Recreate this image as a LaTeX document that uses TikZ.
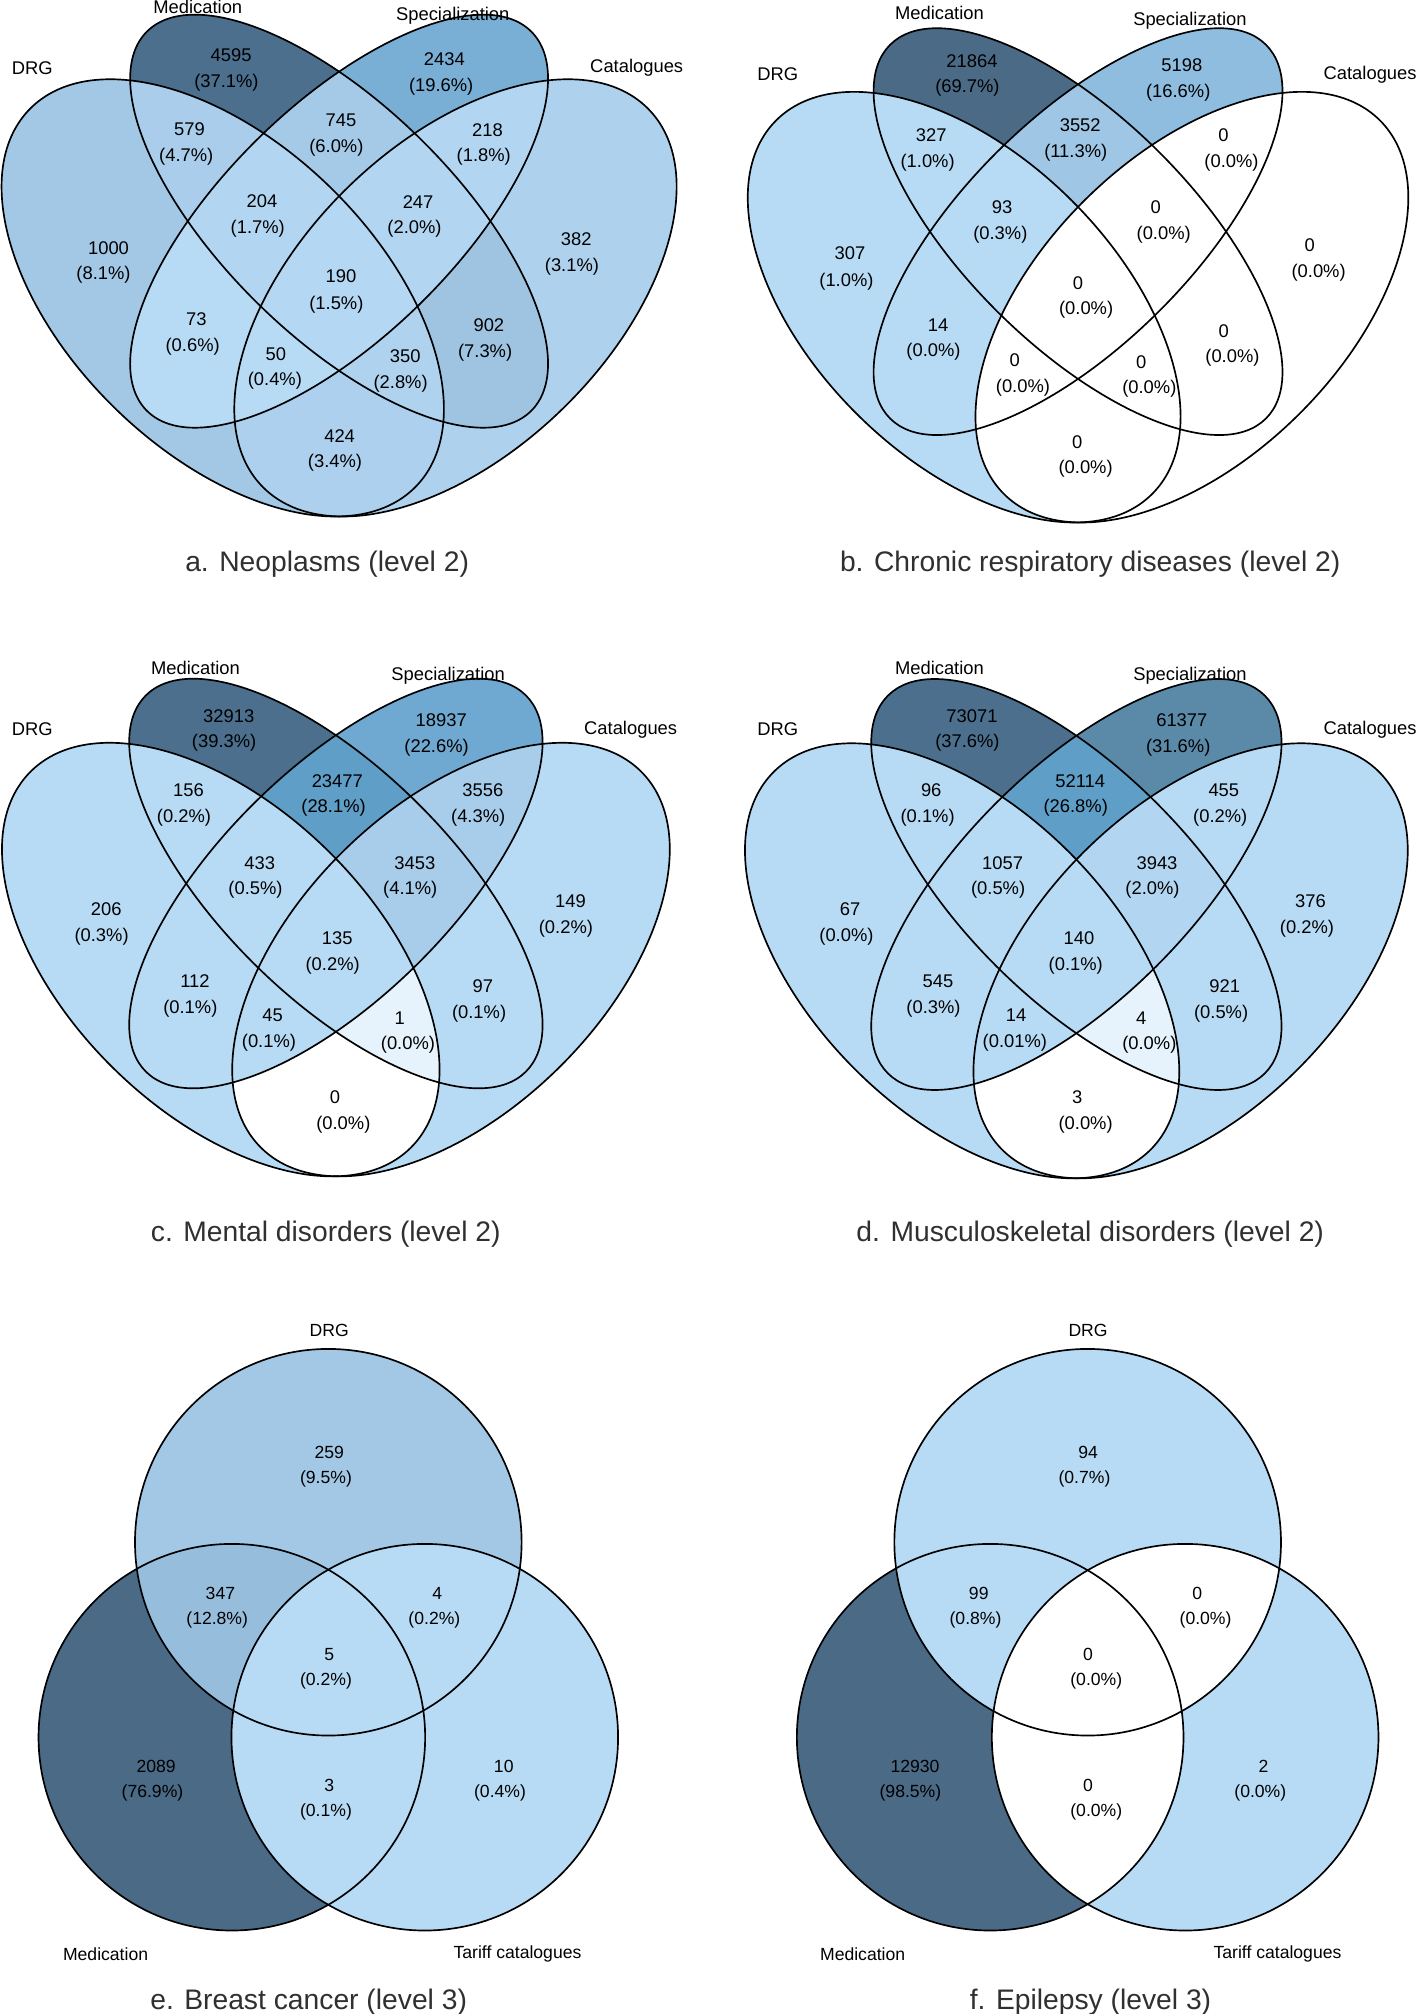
\documentclass[tikz,border=0pt]{standalone}
\usepackage{fontspec}
\setmainfont{Liberation Sans}
\definecolor{cDk}{HTML}{4B6F8C}
\definecolor{cDx}{HTML}{4A6A86}
\definecolor{c316}{HTML}{5B8AA9}
\definecolor{c28}{HTML}{5F9EC6}
\definecolor{c226}{HTML}{6FA8D0}
\definecolor{c196}{HTML}{79AED5}
\definecolor{c166}{HTML}{8EBDE0}
\definecolor{c128}{HTML}{97BDDC}
\definecolor{c113}{HTML}{9FC6E5}
\definecolor{c95}{HTML}{A3C8E5}
\definecolor{c81}{HTML}{A2C8E6}
\definecolor{c73}{HTML}{9EC4E2}
\definecolor{c60}{HTML}{A5CAE8}
\definecolor{c47}{HTML}{A9CDEA}
\definecolor{c43}{HTML}{A8CDEA}
\definecolor{c34}{HTML}{ACD0ED}
\definecolor{c31}{HTML}{AED2EE}
\definecolor{c282}{HTML}{AFD3EF}
\definecolor{c20}{HTML}{B2D6F2}
\definecolor{c15}{HTML}{B4D7F3}
\definecolor{cL}{HTML}{B8DBF5}
\definecolor{cVL}{HTML}{E6F3FC}
\definecolor{capcol}{HTML}{303030}
% four-set ellipses (model coordinates, centre x = 0)
\newcommand\ElA[2]{#1[#2,shift={(-.15,.47)},rotate=135] (0,0) ellipse [x radius=.35,y radius=.2];}
\newcommand\ElB[2]{#1[#2,shift={(0,.57)},rotate=135] (0,0) ellipse [x radius=.35,y radius=.15];}
\newcommand\ElC[2]{#1[#2,shift={(0,.57)},rotate=45] (0,0) ellipse [x radius=.35,y radius=.15];}
\newcommand\ElD[2]{#1[#2,shift={(.15,.47)},rotate=45] (0,0) ellipse [x radius=.35,y radius=.2];}
% three-set circles
\newcommand\hx{75.1}
\newcommand\ElP[2]{#1[#2] (0,0) circle [radius=150.5];}
\newcommand\ElM[2]{#1[#2] (-\hx,-151.8) circle [radius=150.5];}
\newcommand\ElT[2]{#1[#2] (\hx,-151.8) circle [radius=150.5];}
% region fills
\newcommand\Fone[2]{\csname El#1\endcsname{\path}{fill=#2}}
\newcommand\Ftwo[3]{\begin{scope}\csname El#1\endcsname{\clip}{}\csname El#2\endcsname{\path}{fill=#3}\end{scope}}
\newcommand\Fthree[4]{\begin{scope}\csname El#1\endcsname{\clip}{}\csname El#2\endcsname{\clip}{}\csname El#3\endcsname{\path}{fill=#4}\end{scope}}
\newcommand\Ffour[1]{\begin{scope}\ElA{\clip}{}\ElB{\clip}{}\ElC{\clip}{}\ElD{\path}{fill=#1}\end{scope}}
\newcommand\OutQ{\ElA{\draw}{venn}\ElB{\draw}{venn}\ElC{\draw}{venn}\ElD{\draw}{venn}}
\newcommand\OutT{\ElP{\draw}{venn}\ElM{\draw}{venn}\ElT{\draw}{venn}}
\tikzset{
  venn/.style={line width=1.3pt},
  lab/.style={font=\fontsize{14.3}{17}\selectfont,inner sep=0pt,anchor=center},
  labt/.style={font=\fontsize{13.7}{16}\selectfont,inner sep=0pt,anchor=center},
  captext/.style={font=\fontsize{22}{26}\selectfont,inner sep=0pt,anchor=center,text=capcol}
}
\begin{document}
\begin{tikzpicture}[x=1pt,y=1pt]
\useasboundingbox (0,0) rectangle (1104,-1568);
\fill[white] (0,0) rectangle (1104,-1568);

% ---------------- panel a ----------------
\begin{scope}[shift={(264,-512.5)},xscale=604,yscale=597]
\Fone{A}{c81}\Fone{B}{cDk}\Fone{C}{c196}\Fone{D}{c31}
\Ftwo{A}{B}{c47}\Ftwo{A}{C}{cL}\Ftwo{A}{D}{c34}\Ftwo{B}{C}{c60}\Ftwo{B}{D}{c73}\Ftwo{C}{D}{c20}
\Fthree{A}{B}{C}{c20}\Fthree{A}{B}{D}{c282}\Fthree{A}{C}{D}{cL}\Fthree{B}{C}{D}{c20}
\Ffour{c15}
\OutQ
\end{scope}
\node[lab] (aM) at (154,-5.4) {Medication};
\node[lab] (aS) at (352.5,-11.9) {Specialization};
\node[lab] (aD) at (25.2,-53) {DRG};
\node[lab] (aC) at (495.7,-53) {Catalogues};
\node[lab] (a1n) at (179.9,-43.2) {4595};  \node[lab] (a1p) at (176.3,-64.1) {(37.1\%)};
\node[lab] (a2n) at (346,-46.2) {2434};    \node[lab] (a2p) at (343.5,-67.6) {(19.6\%)};
\node[lab] (a3n) at (147.5,-100.7) {579};  \node[lab] (a3p) at (145,-122.2) {(4.7\%)};
\node[lab] (a4n) at (265.5,-93.3) {745};   \node[lab] (a4p) at (261.9,-114.7) {(6.0\%)};
\node[lab] (a5n) at (379.5,-101.3) {218};  \node[lab] (a5p) at (376.6,-122.2) {(1.8\%)};
\node[lab] (a6n) at (204,-157) {204};      \node[lab] (a6p) at (200.7,-178.2) {(1.7\%)};
\node[lab] (a7n) at (325.5,-157) {247};    \node[lab] (a7p) at (322.7,-178.2) {(2.0\%)};
\node[lab] (a8n) at (84.5,-193) {1000};    \node[lab] (a8p) at (80.6,-214) {(8.1\%)};
\node[lab] (a9n) at (448.6,-186.2) {382};  \node[lab] (a9p) at (445.3,-207.7) {(3.1\%)};
\node[lab] (a10n) at (265.5,-215.1) {190}; \node[lab] (a10p) at (261.9,-236.9) {(1.5\%)};
\node[lab] (a11n) at (152.9,-248.8) {73};  \node[lab] (a11p) at (150,-270.3) {(0.6\%)};
\node[lab] (a12n) at (380.6,-253.3) {902}; \node[lab] (a12p) at (377.7,-274.7) {(7.3\%)};
\node[lab] (a13n) at (214.7,-275.6) {50};  \node[lab] (a13p) at (214,-296.5) {(0.4\%)};
\node[lab] (a14n) at (315.5,-277.1) {350}; \node[lab] (a14p) at (311.9,-298.6) {(2.8\%)};
\node[lab] (a15n) at (264.4,-339.7) {424}; \node[lab] (a15p) at (260.8,-360.5) {(3.4\%)};
\node[captext] (acap) at (254.7,-439.5) {a. Neoplasms (level 2)};

% ---------------- panel b ----------------
\begin{scope}[shift={(839.3,-515.5)},xscale=591,yscale=588]
\Fone{A}{cL}\Fone{B}{cDx}\Fone{C}{c166}\Fone{D}{white}
\Ftwo{A}{B}{cL}\Ftwo{A}{C}{cL}\Ftwo{A}{D}{white}\Ftwo{B}{C}{c113}\Ftwo{B}{D}{white}\Ftwo{C}{D}{white}
\Fthree{A}{B}{C}{cL}\Fthree{A}{B}{D}{white}\Fthree{A}{C}{D}{white}\Fthree{B}{C}{D}{white}
\Ffour{white}
\OutQ
\end{scope}
\node[lab] (bM) at (731.4,-10.4) {Medication};
\node[lab] (bS) at (926.4,-16.4) {Specialization};
\node[lab] (bD) at (605.5,-58.1) {DRG};
\node[lab] (bC) at (1066.7,-58.1) {Catalogues};
\node[lab] (b1n) at (756.7,-47.7) {21864}; \node[lab] (b1p) at (753.2,-68.5) {(69.7\%)};
\node[lab] (b2n) at (920.1,-50.7) {5198};  \node[lab] (b2p) at (917.3,-72.1) {(16.6\%)};
\node[lab] (b3n) at (725,-104.9) {327};    \node[lab] (b3p) at (722.2,-126.6) {(1.0\%)};
\node[lab] (b4n) at (841,-97.7) {3552};    \node[lab] (b4p) at (837.5,-119.2) {(11.3\%)};
\node[lab] (b5n) at (952.5,-104.9) {0};    \node[lab] (b5p) at (958.8,-126.6) {(0.0\%)};
\node[lab] (b6n) at (780.2,-161.5) {93};   \node[lab] (b6p) at (778.8,-182.4) {(0.3\%)};
\node[lab] (b7n) at (899.7,-161.5) {0};    \node[lab] (b7p) at (906,-182.4) {(0.0\%)};
\node[lab] (b8n) at (661.8,-197.3) {307};  \node[lab] (b8p) at (659,-219) {(1.0\%)};
\node[lab] (b9n) at (1019.6,-190.7) {0};   \node[lab] (b9p) at (1026.6,-212.2) {(0.0\%)};
\node[lab] (b10n) at (839.3,-220.5) {0};   \node[lab] (b10p) at (845.6,-241.4) {(0.0\%)};
\node[lab] (b11n) at (730.3,-253.3) {14};  \node[lab] (b11p) at (726.8,-274.1) {(0.0\%)};
\node[lab] (b12n) at (952.8,-257.7) {0};   \node[lab] (b12p) at (959.5,-278.6) {(0.0\%)};
\node[lab] (b13n) at (790.1,-280.1) {0};   \node[lab] (b13p) at (796.4,-301.5) {(0.0\%)};
\node[lab] (b14n) at (888.5,-281.6) {0};   \node[lab] (b14p) at (894.8,-303) {(0.0\%)};
\node[lab] (b15n) at (838.6,-344.2) {0};   \node[lab] (b15p) at (845.2,-365) {(0.0\%)};
\node[captext] (bcap) at (848.8,-439.5) {b. Chronic respiratory diseases (level 2)};

% ---------------- panel c ----------------
\begin{scope}[shift={(261.5,-1025.3)},xscale=597.5,yscale=592]
\Fone{A}{cL}\Fone{B}{cDk}\Fone{C}{c226}\Fone{D}{cL}
\Ftwo{A}{B}{cL}\Ftwo{A}{C}{cL}\Ftwo{A}{D}{white}\Ftwo{B}{C}{c28}\Ftwo{B}{D}{cL}\Ftwo{C}{D}{c43}
\Fthree{A}{B}{C}{cL}\Fthree{A}{B}{D}{cVL}\Fthree{A}{C}{D}{cL}\Fthree{B}{C}{D}{c43}
\Ffour{cL}
\OutQ
\end{scope}
\node[lab] (cM) at (152.2,-520.4) {Medication};
\node[lab] (cS) at (348.9,-526.4) {Specialization};
\node[lab] (cD) at (25.2,-567.8) {DRG};
\node[lab] (cC) at (491,-567.8) {Catalogues};
\node[lab] (c1n) at (178.1,-557.4) {32913};  \node[lab] (c1p) at (174.5,-578.5) {(39.3\%)};
\node[lab] (c2n) at (343.5,-560.6) {18937};  \node[lab] (c2p) at (339.9,-582.1) {(22.6\%)};
\node[lab] (c3n) at (146.8,-615.5) {156};    \node[lab] (c3p) at (143.2,-636.6) {(0.2\%)};
\node[lab] (c4n) at (262.6,-608.3) {23477};  \node[lab] (c4p) at (259.7,-628.9) {(28.1\%)};
\node[lab] (c5n) at (375.9,-615.5) {3556};   \node[lab] (c5p) at (372.3,-636.6) {(4.3\%)};
\node[lab] (c6n) at (202.2,-672.1) {433};    \node[lab] (c6p) at (198.9,-692.9) {(0.5\%)};
\node[lab] (c7n) at (323,-672.1) {3453};     \node[lab] (c7p) at (319.4,-692.9) {(4.1\%)};
\node[lab] (c8n) at (82.7,-708.1) {206};     \node[lab] (c8p) at (79.1,-729) {(0.3\%)};
\node[lab] (c9n) at (444.2,-701.3) {149};    \node[lab] (c9p) at (440.6,-723) {(0.2\%)};
\node[lab] (c10n) at (262.6,-730.2) {135};   \node[lab] (c10p) at (259,-751.9) {(0.2\%)};
\node[lab] (c11n) at (151.8,-763.9) {112};   \node[lab] (c11p) at (148.2,-785.3) {(0.1\%)};
\node[lab] (c12n) at (375.9,-767.7) {97};    \node[lab] (c12p) at (373,-789.2) {(0.1\%)};
\node[lab] (c13n) at (212.2,-790.7) {45};    \node[lab] (c13p) at (209.4,-811.5) {(0.1\%)};
\node[lab] (c14n) at (311.2,-792.7) {1};     \node[lab] (c14p) at (317.6,-813.6) {(0.0\%)};
\node[lab] (c15n) at (260.8,-854.1) {0};     \node[lab] (c15p) at (267.3,-875.6) {(0.0\%)};
\node[captext] (ccap) at (253.6,-960.5) {c. Mental disorders (level 2)};

% ---------------- panel d ----------------
\begin{scope}[shift={(838,-1027.2)},xscale=593,yscale=594]
\Fone{A}{cL}\Fone{B}{cDk}\Fone{C}{c316}\Fone{D}{cL}
\Ftwo{A}{B}{cL}\Ftwo{A}{C}{cL}\Ftwo{A}{D}{white}\Ftwo{B}{C}{c28}\Ftwo{B}{D}{cL}\Ftwo{C}{D}{cL}
\Fthree{A}{B}{C}{cL}\Fthree{A}{B}{D}{cVL}\Fthree{A}{C}{D}{cL}\Fthree{B}{C}{D}{c20}
\Ffour{cL}
\OutQ
\end{scope}
\node[lab] (dM) at (731.4,-520.4) {Medication};
\node[lab] (dS) at (926.4,-526.4) {Specialization};
\node[lab] (dD) at (605.5,-567.8) {DRG};
\node[lab] (dC) at (1066.7,-567.8) {Catalogues};
\node[lab] (d1n) at (756.7,-557.4) {73071};  \node[lab] (d1p) at (753.2,-578.5) {(37.6\%)};
\node[lab] (d2n) at (920.1,-560.6) {61377};  \node[lab] (d2p) at (917.3,-582.1) {(31.6\%)};
\node[lab] (d3n) at (725,-615.5) {96};       \node[lab] (d3p) at (722.2,-636.6) {(0.1\%)};
\node[lab] (d4n) at (841,-608.3) {52114};    \node[lab] (d4p) at (837.5,-628.9) {(26.8\%)};
\node[lab] (d5n) at (952.8,-615.5) {455};    \node[lab] (d5p) at (950,-636.6) {(0.2\%)};
\node[lab] (d6n) at (780.6,-672.1) {1057};   \node[lab] (d6p) at (777.1,-692.9) {(0.5\%)};
\node[lab] (d7n) at (900.8,-672.1) {3943};   \node[lab] (d7p) at (897.3,-692.9) {(2.0\%)};
\node[lab] (d8n) at (661.8,-708.1) {67};     \node[lab] (d8p) at (659,-729) {(0.0\%)};
\node[lab] (d9n) at (1020.3,-701.3) {376};   \node[lab] (d9p) at (1017.5,-723) {(0.2\%)};
\node[lab] (d10n) at (840,-730.2) {140};     \node[lab] (d10p) at (837.5,-751.9) {(0.1\%)};
\node[lab] (d11n) at (730.3,-763.9) {545};   \node[lab] (d11p) at (726.8,-785.3) {(0.3\%)};
\node[lab] (d12n) at (953.5,-767.7) {921};   \node[lab] (d12p) at (950.7,-789.2) {(0.5\%)};
\node[lab] (d13n) at (791.1,-790.7) {14};    \node[lab] (d13p) at (790.1,-811.5) {(0.01\%)};
\node[lab] (d14n) at (888.5,-792.7) {4};     \node[lab] (d14p) at (894.8,-813.6) {(0.0\%)};
\node[lab] (d15n) at (838.6,-854.1) {3};     \node[lab] (d15p) at (845.2,-875.6) {(0.0\%)};
\node[captext] (dcap) at (848.8,-960.5) {d. Musculoskeletal disorders (level 2)};

% ---------------- panel e ----------------
\begin{scope}[shift={(255.6,-1200.7)}]
\Fone{P}{c95}\Fone{M}{cDx}\Fone{T}{cL}
\Ftwo{P}{M}{c128}\Ftwo{P}{T}{cL}\Ftwo{M}{T}{cL}
\Fthree{P}{M}{T}{cL}
\OutT
\end{scope}
\node[labt] (eD) at (256.3,-1036.1) {DRG};
\node[labt] (e1n) at (256.3,-1130.8) {259};   \node[labt] (e1p) at (253.8,-1151.5) {(9.5\%)};
\node[labt] (e2n) at (171.6,-1240.9) {347};   \node[labt] (e2p) at (169.1,-1261.3) {(12.8\%)};
\node[labt] (e3n) at (340.4,-1240.9) {4};     \node[labt] (e3p) at (338.2,-1261.3) {(0.2\%)};
\node[labt] (e4n) at (256.3,-1288.1) {5};     \node[labt] (e4p) at (253.8,-1308.9) {(0.2\%)};
\node[labt] (e5n) at (121.6,-1375) {2089};    \node[labt] (e5p) at (118.7,-1395.7) {(76.9\%)};
\node[labt] (e6n) at (256.3,-1390.4) {3};     \node[labt] (e6p) at (253.8,-1410.8) {(0.1\%)};
\node[labt] (e7n) at (392.2,-1375) {10};      \node[labt] (e7p) at (389.3,-1395.7) {(0.4\%)};
\node[labt] (eM) at (82.2,-1521.6) {Medication};
\node[labt] (eT) at (402.9,-1521.6) {Tariff catalogues};
\node[captext] (ecap) at (240.3,-1559) {e. Breast cancer (level 3)};

% ---------------- panel f ----------------
\renewcommand\hx{75.9}
\begin{scope}[shift={(846.8,-1200.7)}]
\Fone{P}{cL}\Fone{M}{cDx}\Fone{T}{cL}
\Ftwo{P}{M}{cL}\Ftwo{P}{T}{white}\Ftwo{M}{T}{white}
\Fthree{P}{M}{T}{white}
\OutT
\end{scope}
\node[labt] (fD) at (847.1,-1036.1) {DRG};
\node[labt] (f1n) at (847.1,-1130.8) {94};    \node[labt] (f1p) at (844.3,-1151.5) {(0.7\%)};
\node[labt] (f2n) at (762,-1240.9) {99};      \node[labt] (f2p) at (759.5,-1261.3) {(0.8\%)};
\node[labt] (f3n) at (932.2,-1240.9) {0};     \node[labt] (f3p) at (938.6,-1261.3) {(0.0\%)};
\node[labt] (f4n) at (847.1,-1288.1) {0};     \node[labt] (f4p) at (853.5,-1308.9) {(0.0\%)};
\node[labt] (f5n) at (712.4,-1375) {12930};   \node[labt] (f5p) at (708.8,-1395.7) {(98.5\%)};
\node[labt] (f6n) at (847.1,-1390.4) {0};     \node[labt] (f6p) at (853.5,-1410.8) {(0.0\%)};
\node[labt] (f7n) at (983.7,-1375) {2};       \node[labt] (f7p) at (981.2,-1395.7) {(0.0\%)};
\node[labt] (fM) at (671.6,-1521.6) {Medication};
\node[labt] (fT) at (994.6,-1521.6) {Tariff catalogues};
\node[captext] (fcap) at (849,-1559) {f. Epilepsy (level 3)};
\end{tikzpicture}
\end{document}
